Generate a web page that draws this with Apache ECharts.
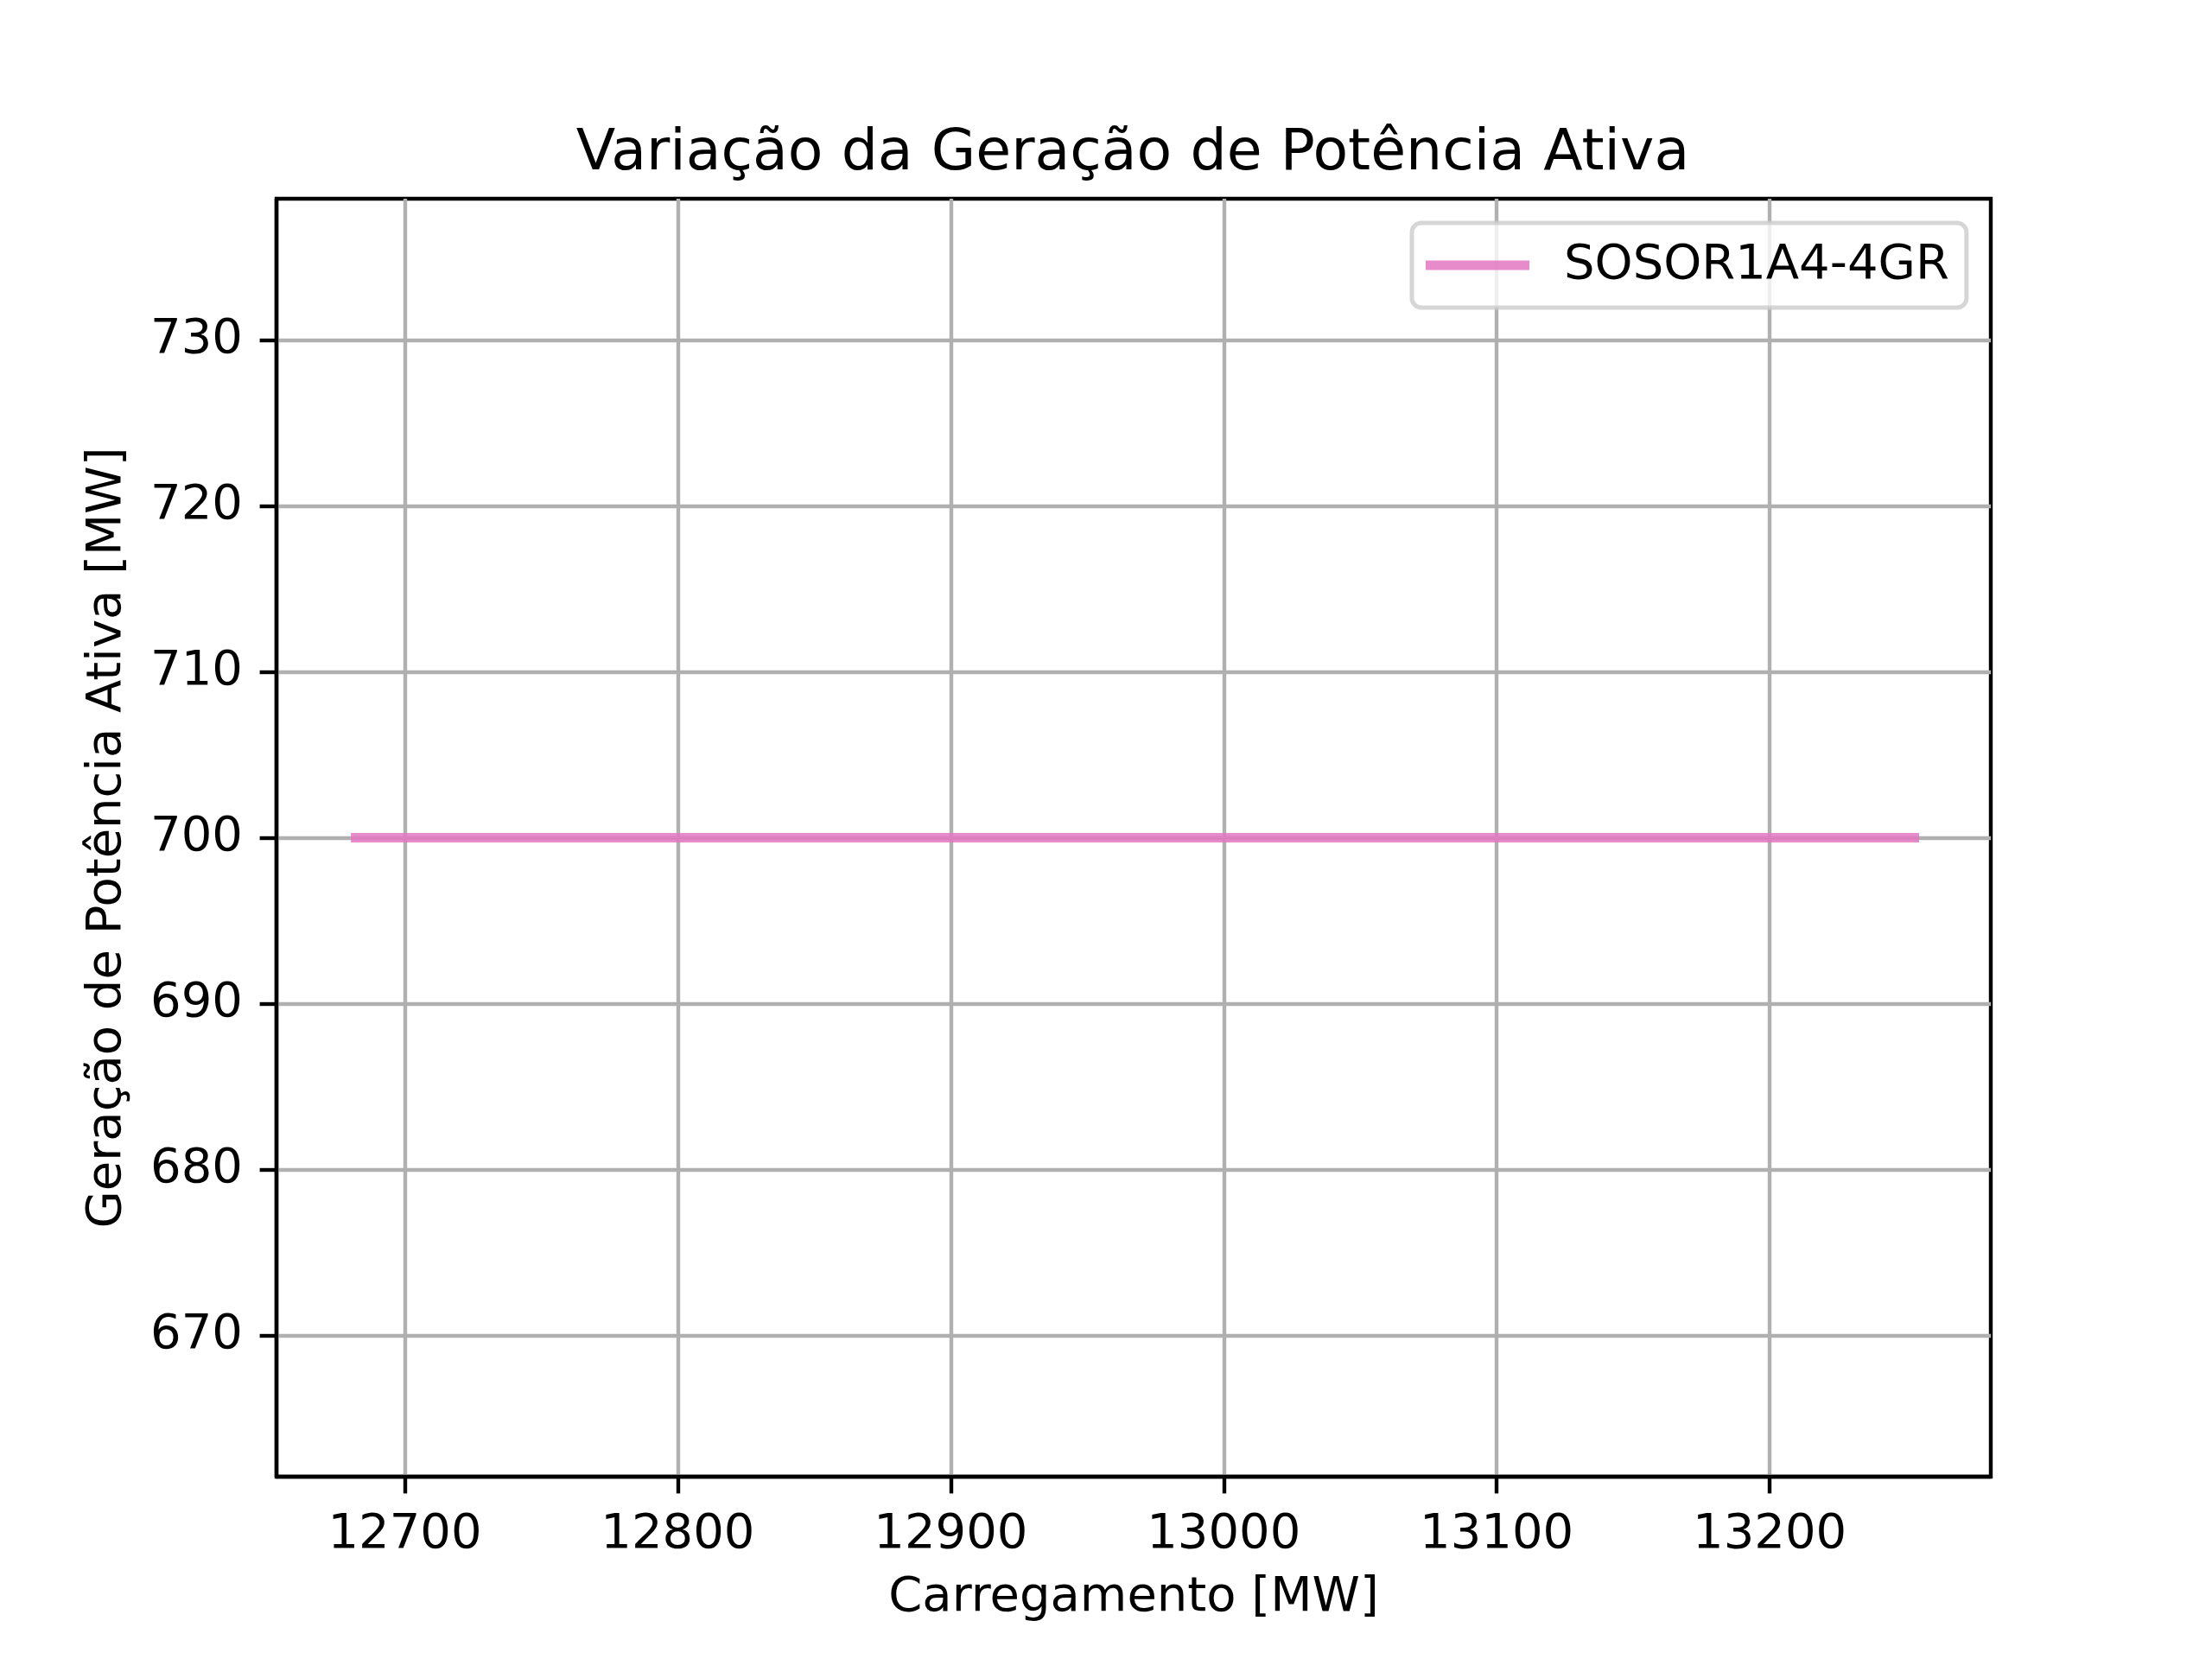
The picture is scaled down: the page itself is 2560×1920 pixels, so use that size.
<!DOCTYPE html>
<html>
<head>
<meta charset="utf-8">
<script src="https://cdn.jsdelivr.net/npm/echarts@6/dist/echarts.min.js"></script>
<style>
html,body{margin:0;padding:0;background:#fff;}
#chart{width:2560px;height:1920px;}
</style>
</head>
<body>
<div id="chart"></div>
<script>
const seriesName = 'SOSOR1A4-4GR';
const carregamento = [12682, 12740, 12800, 12860, 12920, 12980, 13040, 13100, 13160, 13220, 13253];
const geracao = [700, 700, 700, 700, 700, 700, 700, 700, 700, 700, 700];
const xTicks = [12700, 12800, 12900, 13000, 13100, 13200];
const yTicks = [670, 680, 690, 700, 710, 720, 730];

const FONT = 'DejaVu Sans';
const chart = echarts.init(document.getElementById('chart'), null, {renderer: 'canvas'});
const data = carregamento.map((x, i) => [x, geracao[i]]);

chart.setOption({
  backgroundColor: '#ffffff',
  animation: false,
  title: {
    text: 'Variação da Geração de Potência Ativa',
    left: 1306, top: 140, textAlign: 'center',
    textStyle: {fontFamily: FONT, fontSize: 66.5, fontWeight: 'normal', color: '#000'}
  },
  legend: {
    left: 1634, top: 258,
    padding: [20, 20, 20, 16],
    icon: 'rect',
    itemWidth: 120, itemHeight: 11,
    backgroundColor: 'rgba(255,255,255,0.8)',
    borderColor: 'rgba(204,204,204,0.8)',
    borderWidth: 5, borderRadius: 11,
    textStyle: {fontFamily: FONT, fontSize: 56, color: '#000', padding: [0, 0, 0, 35], lineHeight: 58},
    data: [seriesName]
  },
  grid: {
    left: 320, right: 256, top: 230, bottom: 211,
    show: true, borderColor: '#000', borderWidth: 4.4, backgroundColor: 'transparent'
  },
  xAxis: {
    type: 'value', min: 12653, max: 13281,
    name: 'Carregamento [MW]', nameLocation: 'middle', nameGap: 112,
    nameTextStyle: {fontFamily: FONT, fontSize: 56, color: '#000'},
    axisLine: {show: true, onZero: false, lineStyle: {color: '#000', width: 4.4}},
    axisTick: {show: true, inside: false, length: 19.4, customValues: xTicks, lineStyle: {color: '#000', width: 4.4}},
    axisLabel: {customValues: xTicks, margin: 39, fontFamily: FONT, fontSize: 56, color: '#000',
      formatter: v => String(v)},
    splitLine: {show: true, lineStyle: {color: '#b0b0b0', width: 4.4}}
  },
  yAxis: {
    type: 'value', min: 661.5, max: 738.5,
    name: 'Geração de Potência Ativa [MW]', nameLocation: 'middle', nameGap: 168,
    nameTextStyle: {fontFamily: FONT, fontSize: 56, color: '#000'},
    axisLine: {show: true, onZero: false, lineStyle: {color: '#000', width: 4.4}},
    axisTick: {show: true, inside: false, length: 19.4, customValues: yTicks, lineStyle: {color: '#000', width: 4.4}},
    axisLabel: {customValues: yTicks, margin: 39, fontFamily: FONT, fontSize: 56, color: '#000',
      formatter: v => String(v)},
    splitLine: {show: true, lineStyle: {color: '#b0b0b0', width: 4.4}}
  },
  series: [{
    name: seriesName,
    type: 'line',
    data: data,
    showSymbol: false, symbol: 'none',
    color: 'rgba(227,119,194,0.85)',
    lineStyle: {width: 11, color: 'rgba(227,119,194,0.85)', cap: 'square'},
    z: 3
  }]
});
</script>
</body>
</html>
